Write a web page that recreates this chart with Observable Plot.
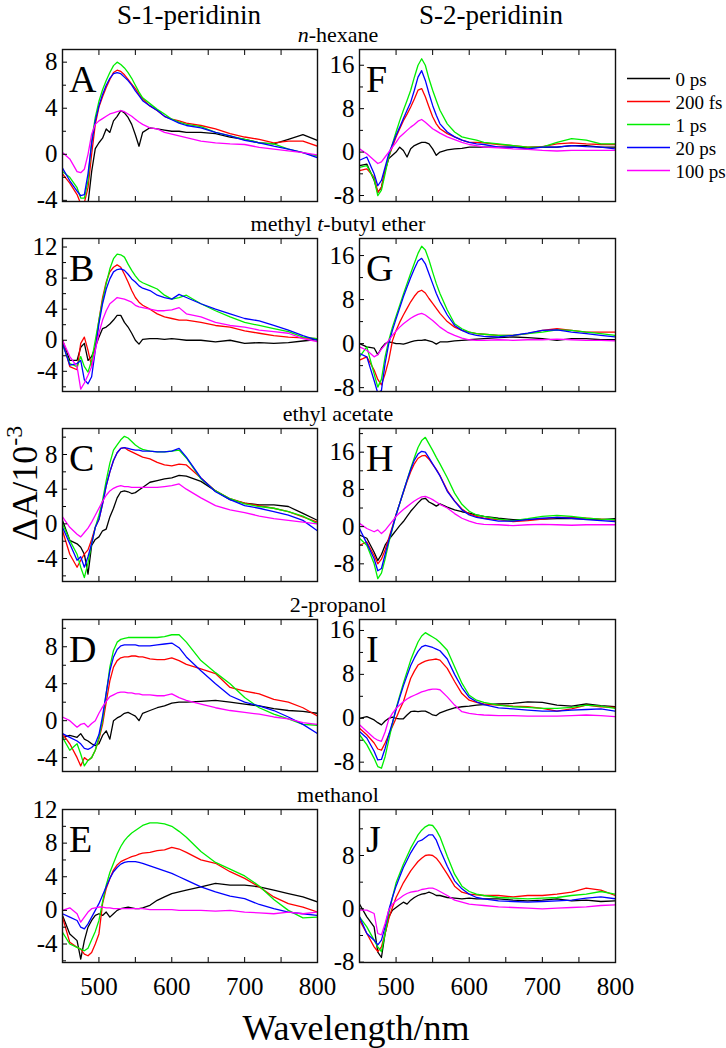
<!DOCTYPE html>
<html><head><meta charset="utf-8">
<script src="https://cdn.jsdelivr.net/npm/d3@7"></script>
<script src="https://cdn.jsdelivr.net/npm/@observablehq/plot@0.6"></script>
<style>
body{margin:0;background:#fff;}
#root{position:relative;width:726px;height:1048px;overflow:hidden;background:#fff;font-family:"Liberation Serif","Times New Roman",serif;}
#root svg{position:absolute;overflow:visible;}
</style></head><body><div id="root"></div>
<script>
// ---- data ----
const wavelength = [450,460,470,475,480,485,490,495,500,505,510,515,520,525,530,535,540,545,550,555,560,570,580,590,600,610,620,640,660,680,700,720,740,760,780,800];
const seriesNames = ["0 ps","200 fs","1 ps","20 ps","100 ps"];
const seriesColors = ["#000000","#ff0000","#00ee00","#0000ff","#ff00ff"];
const columnTitles = ["S-1-peridinin","S-2-peridinin"];
const solvents = ["n-hexane","methyl t-butyl ether","ethyl acetate","2-propanol","methanol"];
const xTicks = [450,500,550,600,650,700,750,800];
const xLabels = [500,600,700,800];

// each panel: [0 ps, 200 fs, 1 ps, 20 ps, 100 ps]
const panelA = [
 [-5,-5,-5,-5,-5,-4.3,-1.5,0.5,1.0,1.4,2.2,1.9,2.9,3.3,3.8,3.6,3.2,2.6,1.7,0.7,1.9,2.3,2.2,2.1,2.0,2.0,1.9,1.9,1.8,1.5,1.3,1.0,0.9,1.3,1.7,1.2],
 [-1.7,-2.5,-3.5,-4.3,-4.2,-2.9,0,2.6,4.1,5.0,5.8,6.5,7.1,7.3,7.2,6.9,6.5,6.1,5.7,5.2,4.8,4.2,3.8,3.3,3.05,2.9,2.7,2.5,2.2,1.8,1.5,1.3,1.0,1.15,1.15,0.7],
 [-1.5,-2.0,-2.9,-3.8,-3.8,-2.3,1.2,3.2,4.6,5.6,6.4,7.1,7.7,8.0,7.8,7.5,7.1,6.6,6.0,5.4,4.9,4.4,3.9,3.5,3.05,2.8,2.6,2.4,1.9,1.6,1.3,1.0,0.9,0.45,0.15,-0.15],
 [-1.2,-2.3,-3.2,-3.6,-3.5,-1.7,0.9,2.9,4.2,5.2,6.0,6.6,7.0,7.1,7.0,6.7,6.4,6.0,5.5,5.1,4.65,4.2,3.8,3.3,3.0,2.7,2.5,2.3,1.9,1.6,1.2,1.0,0.7,0.45,0.15,-0.3],
 [0.15,-0.4,-1.5,-1.6,-1.3,0,1.75,2.6,2.9,3.1,3.3,3.5,3.6,3.7,3.8,3.7,3.5,3.3,3.05,2.8,2.6,2.3,2.2,1.9,1.75,1.6,1.45,1.15,1.0,0.9,0.85,0.6,0.45,0.3,0.15,-0.05]
];
const panelB = [
 [0,-2.6,-2.6,-0.9,-0.4,-2.6,-2.1,-0.9,0.4,1.5,1.7,2.1,2.6,3.2,3.2,2.3,1.7,0.9,0,-0.5,0.1,0.2,0.2,0.1,0.2,0.1,0,0,-0.2,0,-0.4,-0.3,-0.4,-0.3,-0.1,0.1],
 [0,-3.4,-3.8,-0.4,0.4,-1.3,-3.4,-0.9,2.6,5.5,7.5,8.8,9.4,9.7,9.4,8.5,7.5,6.4,5.5,4.9,4.5,4.0,3.4,3.0,2.8,2.6,2.6,2.3,1.9,1.7,1.2,0.9,0.6,0.4,0.3,0.2],
 [-0.5,-3.0,-3.4,-2.1,-3.4,-4.1,-2.6,0,2.6,5.1,7.3,9.2,10.5,11.1,11.0,10.7,9.8,9.0,8.3,7.7,7.4,7.0,6.6,5.8,5.3,5.5,5.8,4.7,3.8,3.0,2.3,1.9,1.5,1.1,0.4,0.2],
 [-0.4,-3.2,-3.0,-2.6,-5.1,-5.6,-4.7,-1.3,2.1,4.7,6.6,7.9,8.8,9.1,9.2,9.0,8.5,7.9,7.5,7.0,6.7,6.4,5.8,5.5,5.3,5.9,5.5,4.7,4.0,3.4,2.8,2.5,1.9,1.3,0.6,0],
 [0,-2.1,-3.4,-6.3,-5.5,-4.5,-3.4,-1.3,0.9,2.6,3.8,4.7,5.1,5.5,5.4,5.3,5.1,4.9,4.5,4.3,4.2,4.0,3.8,3.8,3.9,4.2,3.4,3.0,2.3,1.9,1.7,1.3,1.1,0.9,0.2,-0.2]
];
const panelC = [
 [0.4,-1.9,-2.3,-2.7,-3.5,-5.8,-2.5,-1.8,-1.5,-0.8,-0.6,0.8,1.8,3.0,3.7,3.8,3.7,3.5,3.6,3.9,4.2,4.8,5.0,5.2,5.3,5.6,5.5,4.9,3.8,2.8,2.4,2.2,2.2,2.0,1.2,0.4],
 [-0.8,-3.5,-5.0,-4.2,-3.5,-3.0,-1.8,-0.4,0.5,2.3,4.4,6.0,7.3,8.2,8.7,8.8,8.5,8.3,8.1,7.9,7.7,7.5,7.1,6.8,6.7,6.9,6.8,5.3,3.8,2.9,2.4,2.1,1.8,1.4,0.8,0.2],
 [0,-1.9,-3.5,-5.0,-6.2,-4.5,-2.3,-0.4,1.0,2.7,5.0,7.0,8.5,9.1,9.7,10.1,9.9,9.5,9.1,8.8,8.6,8.4,8.3,8.3,8.4,8.5,7.6,5.2,3.8,2.9,2.3,2.0,1.8,1.4,0.9,0],
 [-0.4,-2.3,-4.2,-3.8,-5.0,-3.8,-2.3,-0.4,0.5,2.3,4.4,6.0,7.3,8.2,8.7,8.8,8.7,8.6,8.5,8.5,8.4,8.4,8.3,8.3,8.4,8.7,7.7,5.3,3.7,2.8,2.1,1.8,1.4,1.0,0.4,-0.8],
 [0.8,-0.4,-1.2,-1.5,-1.0,-0.5,0.2,1.0,1.8,2.6,3.3,3.8,4.1,4.3,4.4,4.3,4.3,4.2,4.2,4.2,4.2,4.2,4.2,4.3,4.4,4.6,4.0,3.0,2.1,1.6,1.3,0.9,0.6,0.4,0.2,0]
];
const panelD = [
 [-1.8,-1.6,-1.8,-1.4,-2.0,-2.2,-2.5,-2.7,-2.5,-1.6,-1.1,-2.0,0,0.3,0.5,0.8,0.9,0.7,0.5,0,0.8,1.1,1.4,1.6,1.9,2.0,2.0,2.1,2.2,2.0,1.8,1.6,1.3,1.1,1.0,0.8],
 [-1.4,-2.5,-4.0,-4.9,-4.0,-4.3,-4.0,-3.2,-2.0,-0.4,2.0,4.3,5.8,6.5,6.8,6.9,6.9,7.0,7.0,6.9,6.9,6.7,6.6,6.6,6.8,6.5,6.1,5.6,5.1,3.6,3.2,2.9,2.3,2.0,1.4,0.5],
 [-1.8,-3.2,-2.5,-3.6,-4.9,-4.3,-4.0,-3.2,-1.8,0,2.9,5.8,7.6,8.5,8.8,8.9,9.0,9.0,9.0,9.0,9.0,9.0,9.0,9.1,9.3,9.3,8.5,6.5,5.2,4.0,2.5,1.4,0.7,0.2,-0.4,-0.5],
 [-1.4,-1.8,-2.2,-2.5,-3.0,-3.1,-2.9,-2.5,-1.5,0.5,3.0,5.4,6.9,7.7,8.1,8.2,8.2,8.2,8.2,8.1,8.1,8.1,8.2,8.3,8.4,7.9,6.9,5.4,4.0,2.7,2.0,1.6,1.1,0.4,-0.4,-1.4],
 [0.4,0,-0.7,-0.4,-0.3,-0.7,-0.3,0,0.8,1.5,2.1,2.6,2.8,3.0,3.1,3.1,3.0,3.0,2.9,2.9,2.8,2.8,2.7,2.7,2.9,2.5,2.2,1.8,1.4,1.1,0.9,0.7,0.4,0.2,-0.2,-0.4]
];
const panelE = [
 [-0.6,-2.8,-3.6,-5.8,-3.6,-2.0,-1.2,-0.6,-0.4,-0.6,-0.2,-0.8,-0.4,0,0.2,0.3,0.4,0.3,0.2,0.2,0.3,0.6,1.2,1.6,2.0,2.2,2.4,2.8,3.2,3.0,3.0,2.8,2.4,2.0,1.6,1.0],
 [-0.8,-3.8,-4.4,-4.6,-5.2,-5.4,-5.0,-4.0,-2.8,0.8,2.6,3.8,4.8,5.4,5.8,6.0,6.2,6.4,6.5,6.7,6.8,6.9,7.1,7.2,7.5,7.3,6.9,6.0,5.6,4.6,3.8,2.8,1.6,0.8,0.4,-0.2],
 [-2.6,-4.0,-4.4,-4.6,-4.8,-4.5,-3.5,-2.5,-1.2,1.0,3.0,4.5,5.6,6.7,7.6,8.3,8.8,9.2,9.5,9.8,10.1,10.4,10.4,10.3,10.0,9.4,8.7,7.0,5.7,4.9,4.1,2.9,1.3,0,-0.9,-0.8],
 [-0.4,-0.8,-1.2,-2.0,-2.2,-1.6,-0.8,0,0.8,1.8,2.8,3.8,4.6,5.1,5.5,5.7,5.8,5.8,5.8,5.7,5.6,5.3,5.0,4.7,4.4,4.0,3.6,2.8,2.2,1.7,1.4,0.7,0.2,-0.2,-0.4,-0.6],
 [0,0.3,-0.4,-1.4,-0.8,-0.2,0.2,0.3,0.4,0.4,0.3,0.3,0.2,0.2,0.2,0.2,0.2,0.2,0.2,0.2,0.2,0.1,0.1,0.1,0.1,0,0,0,-0.1,0,-0.2,-0.3,-0.4,-0.2,-0.4,-0.2]
];
const panelF = [
 [-2.5,-2.2,-5.2,-7.4,-6.5,-3.4,-1.2,-0.6,0,0.9,0.3,-0.9,0.6,1.2,1.5,1.8,1.8,1.5,0.6,-0.6,0,0.4,0.6,0.7,0.9,0.9,0.9,0.9,0.9,0.8,0.9,0.9,1.2,1.2,0.9,0.9],
 [-3.4,-3.1,-4.6,-7.4,-6.5,-3.4,-0.9,1.0,2.8,4.3,5.8,7.0,8.3,9.8,11.4,11.7,10.2,8.3,6.5,5.2,4.3,3.4,2.8,2.2,1.8,1.8,1.7,1.4,1.2,0.9,1.0,1.5,1.7,1.5,1.4,1.4],
 [-2.8,-2.5,-5.0,-8.0,-7.0,-4.0,-0.9,1.5,3.7,5.8,7.7,9.5,11.4,13.8,16.0,17.2,16.0,13.5,11.4,9.5,7.7,5.2,3.7,2.8,2.5,2.2,1.8,1.5,1.2,0.9,0.9,1.8,2.5,2.2,1.5,1.5],
 [-1.5,-0.9,-4.0,-6.2,-5.2,-2.8,-0.3,1.4,3.1,4.6,6.2,7.7,9.2,11.4,13.8,15.0,13.2,10.8,8.6,6.8,5.2,3.7,2.8,2.2,1.8,1.5,1.4,0.9,0.9,0.6,0.9,0.9,1.2,1.0,0.9,0.6],
 [0.6,-0.3,-1.5,-2.1,-1.8,-0.9,0,0.9,1.8,2.8,3.4,4.0,4.6,5.1,5.7,6.0,5.5,4.9,4.3,3.9,3.5,2.8,2.3,1.8,1.4,1.2,0.9,0.8,0.6,0.5,0.3,0.2,0.3,0.3,0.3,0.3]
];
const panelG = [
 [0,-0.6,-0.8,-2.0,-0.8,0,0.3,0.2,0,0,-0.1,0.1,0.3,0.5,0.6,0.6,0.7,0.5,0.3,-0.1,0.3,0.3,0.5,0.6,0.7,0.8,0.9,1.1,1.2,1.1,0.9,0.6,0.9,0.9,0.7,0.7],
 [-3.0,-2.4,-4.8,-6.5,-7.5,-5.5,-3.0,0.5,2.4,3.9,5.2,6.4,7.6,8.6,9.4,9.7,9.2,8.2,7.3,6.4,5.5,4.0,3.0,2.4,2.1,1.8,1.7,1.5,1.5,1.8,2.4,2.7,2.4,2.1,2.1,2.1],
 [-2.4,-0.6,-5.5,-7.9,-6.5,-2.4,0.6,3.0,5.0,7.0,9.0,10.9,12.8,14.6,16.4,17.7,17.0,15.2,13.0,10.9,9.1,6.1,3.6,2.7,2.1,1.8,1.7,1.5,1.5,1.8,2.1,2.5,2.4,2.1,1.8,1.5],
 [-1.8,-2.4,-6.7,-9.0,-8.5,-3.6,0,2.4,4.5,6.5,8.5,10.3,12.0,13.6,15.0,15.5,14.5,12.7,10.9,9.1,7.6,5.2,3.3,2.4,1.8,1.5,1.3,1.2,1.5,1.9,2.4,2.5,2.1,1.8,1.5,1.2],
 [-0.6,-1.2,-2.4,-2.0,-1.0,-0.2,0.6,1.5,2.3,3.0,3.6,4.1,4.6,5.0,5.3,5.5,5.2,4.7,4.2,3.6,3.0,2.1,1.5,1.0,0.7,0.6,0.6,0.7,0.6,0.7,0.7,0.8,0.7,0.6,0.6,0.5]
];
const panelH = [
 [-1.8,-2.5,-5.5,-7.3,-6.0,-4.0,-2.8,-1.8,-0.8,0.2,1.1,2.2,3.3,4.2,5.1,5.9,6.1,5.3,4.9,4.4,4.9,4.2,3.6,3.2,2.9,2.5,2.2,1.8,1.5,1.5,1.6,1.7,1.7,1.6,1.5,1.7],
 [-4.0,-3.3,-6.2,-8.0,-7.0,-5.0,-2.5,0,2.6,5.0,7.4,9.7,11.8,13.5,14.7,15.2,15.3,14.5,13.4,12.3,11.0,7.8,5.5,3.8,2.7,2.2,1.8,1.5,1.1,1.3,1.6,2.0,2.0,1.8,1.6,1.4],
 [-2.5,-4.0,-8.0,-11.2,-10.0,-7.0,-3.5,-0.5,2.5,5.0,7.5,10.0,12.5,14.8,17.0,18.5,19.2,17.8,16.4,14.9,13.5,10.5,7.2,4.8,3.3,2.5,2.2,1.6,1.3,1.7,2.2,2.4,2.2,1.8,1.6,1.5],
 [-0.4,-3.6,-6.9,-9.5,-9.0,-6.0,-3.0,-0.3,2.5,5.0,7.5,10.0,12.3,14.3,15.6,16.2,16.0,14.8,13.5,12.2,10.9,7.6,5.5,3.6,2.5,2.0,1.7,1.2,1.2,1.5,1.8,2.0,1.8,1.5,1.3,1.1],
 [0.7,-0.4,-1.1,-0.7,-1.5,-0.8,0.2,1.2,2.2,3.0,3.7,4.3,4.9,5.5,6.0,6.4,6.5,6.2,5.8,5.3,4.8,4.0,2.8,1.8,1.2,0.7,0.5,0.4,0.2,0.4,0.5,0.4,0.3,0.4,0.4,0.4]
];
const panelI = [
 [0,0.3,-0.3,-0.8,-1.2,-0.5,0,0.2,0,-0.1,-0.1,0.6,1.2,1.3,1.2,1.3,1.3,1.0,0.6,0.5,1.0,1.5,1.9,2.1,2.2,2.4,2.5,2.6,2.7,3.0,2.9,2.4,2.2,2.6,2.3,2.1],
 [-1.8,-3.0,-4.5,-5.6,-5.8,-4.5,-3.0,-1.5,0,1.6,3.0,5.2,7.3,8.6,9.7,10.1,10.4,10.6,10.7,10.8,10.6,9.1,6.7,4.5,3.3,2.9,2.6,2.4,2.2,2.1,1.8,1.3,1.7,2.4,2.1,2.0],
 [-3.0,-4.8,-7.3,-8.8,-9.1,-7.0,-4.0,-1.0,1.8,4.1,6.4,8.5,10.6,12.3,13.9,15.0,15.6,15.2,14.8,14.4,13.8,12.4,9.4,6.4,4.2,3.3,2.9,2.4,2.1,2.0,1.8,1.8,2.0,2.4,2.2,1.8],
 [-2.4,-3.6,-6.0,-7.6,-7.5,-5.5,-3.0,-0.8,1.6,3.8,5.9,7.8,9.6,11.0,12.2,13.0,13.3,13.1,12.9,12.6,12.3,10.8,8.0,5.6,3.8,3.0,2.5,1.9,1.7,1.5,1.3,1.3,1.5,1.6,1.7,1.3],
 [-1.2,-2.4,-3.6,-4.0,-4.2,-2.5,-0.2,0.9,1.8,2.4,3.0,3.5,3.9,4.2,4.5,4.8,5.0,5.2,5.3,5.3,5.2,3.9,2.4,1.2,0.9,0.7,0.6,0.5,0.5,0.4,0.4,0.4,0.5,0.6,0.5,0.3]
];
const panelJ = [
 [0.7,-1.2,-2.7,-6.5,-7.3,-3.7,-1.2,-0.2,0.2,0.6,1.0,0.7,1.3,1.7,2.0,2.2,2.3,2.5,2.3,2.0,2.0,1.7,1.6,1.5,1.6,1.5,1.5,1.5,1.3,1.2,1.3,1.5,1.2,1.3,1.1,1.2],
 [-1.7,-3.7,-5.7,-6.4,-5.7,-3.7,-1.5,0.2,1.7,2.8,3.9,4.8,5.7,6.4,7.1,7.6,8.0,8.1,8.0,7.6,6.9,5.2,3.4,2.5,2.2,2.1,2.0,2.0,1.8,2.0,2.0,2.2,2.5,3.1,2.8,2.0],
 [-1.2,-2.7,-4.7,-5.7,-6.4,-3.7,-0.7,1.7,3.9,5.3,6.7,7.9,9.1,10.1,11.1,11.8,12.3,12.6,12.5,11.8,10.8,7.9,5.2,3.4,2.6,2.2,2.0,1.7,1.6,1.5,1.6,1.7,2.0,2.2,2.6,2.2],
 [-1.2,-3.7,-4.7,-5.4,-4.7,-2.7,-0.2,1.7,3.4,4.8,6.2,7.3,8.4,9.3,10.1,10.3,10.7,11.1,11.1,10.3,8.9,6.4,4.2,3.0,2.2,1.7,1.5,1.2,1.1,1.0,1.1,1.2,1.3,1.6,1.8,1.5],
 [-0.2,-0.2,-0.7,-3.7,-3.9,-2.2,-0.2,0.7,1.2,1.6,2.0,2.3,2.5,2.6,2.7,2.9,3.0,3.1,3.1,2.9,2.6,2.0,1.3,1.0,0.7,0.6,0.5,0.3,0.2,0.1,0,0.1,0.2,0.3,0.5,0.6]
];

// ---- layout ----
const FONT = "Liberation Serif, Times New Roman, serif";
const colX = [62, 359];
const colW = [255, 256];
const rowY = [49, 238, 428, 619, 809];
const rowH = [152, 153, 153, 152, 153];
const panels = [
  {letter:"A", data:panelA, col:0, row:0, yd:[-4.1,9.1],  major:[-4,0,4,8],     step:2},
  {letter:"B", data:panelB, col:0, row:1, yd:[-6.6,13.1], major:[-4,0,4,8,12],  step:2},
  {letter:"C", data:panelC, col:0, row:2, yd:[-6.65,11.0],major:[-4,0,4,8],     step:2},
  {letter:"D", data:panelD, col:0, row:3, yd:[-5.5,10.95],major:[-4,0,4,8],     step:2},
  {letter:"E", data:panelE, col:0, row:4, yd:[-6.2,12.0], major:[-4,0,4,8,12],  step:2},
  {letter:"F", data:panelF, col:1, row:0, yd:[-9.1,18.9], major:[-8,0,8,16],    step:4},
  {letter:"G", data:panelG, col:1, row:1, yd:[-8.7,19.1], major:[-8,0,8,16],    step:4},
  {letter:"H", data:panelH, col:1, row:2, yd:[-11.8,21.1],major:[-8,0,8,16],    step:4},
  {letter:"I", data:panelI, col:1, row:3, yd:[-9.7,18.0], major:[-8,0,8,16],    step:4},
  {letter:"J", data:panelJ, col:1, row:4, yd:[-8.05,14.9],major:[-8,0,8],       step:4}
];

const root = document.getElementById("root");
const mL = 60, mR = 4, mT = 4;

for (const p of panels) {
  const rows = [];
  p.data.forEach((vals, si) => vals.forEach((v, i) => rows.push({w: wavelength[i], v, s: seriesNames[si]})));
  const bottom = p.row === 4;
  const mB = bottom ? 44 : 4;
  const w = colW[p.col], h = rowH[p.row];
  const minor = d3.range(Math.ceil(p.yd[0] / p.step) * p.step, p.yd[1], p.step).filter(t => !p.major.includes(t));
  const chart = Plot.plot({
    width: w + mL + mR, height: h + mT + mB,
    marginLeft: mL, marginRight: mR, marginTop: mT, marginBottom: mB,
    style: {fontFamily: FONT, fontSize: "25px", background: "none", overflow: "visible", color: "#000"},
    x: {domain: [450, 800]},
    y: {domain: p.yd},
    color: {domain: seriesNames, range: seriesColors},
    marks: [
      Plot.line(rows, {x: "w", y: "v", z: "s", stroke: "s", strokeWidth: 1.3, clip: true}),
      Plot.axisX(xTicks, {anchor: "top", tickSize: -5, tickFormat: () => "", label: null}),
      Plot.axisX(xTicks, {anchor: "bottom", tickSize: -5, tickPadding: 20, fontSize: 25,
        tickFormat: d => (bottom && xLabels.includes(d)) ? String(d) : "", label: null}),
      Plot.axisY(p.major, {anchor: "left", tickSize: -5, tickPadding: 10, fontSize: 25, tickFormat: d => String(d), label: null}),
      Plot.axisY(minor, {anchor: "left", tickSize: -4, tickFormat: () => "", label: null}),
      Plot.frame({stroke: "#111", strokeWidth: 1.4})
    ]
  });
  chart.style.left = (colX[p.col] - mL) + "px";
  chart.style.top = (rowY[p.row] - mT) + "px";
  root.appendChild(chart);
}

// legend
const legend = Plot.plot({
  width: 100, height: 120, margin: 0,
  style: {fontFamily: FONT, background: "none", overflow: "visible", color: "#000"},
  x: {domain: [0, 100], range: [0, 100], axis: null},
  y: {type: "point", domain: seriesNames, range: [12, 106], padding: 0, axis: null},
  color: {domain: seriesNames, range: seriesColors},
  marks: [
    Plot.ruleY(seriesNames, {y: d => d, x1: 0, x2: 43, stroke: d => d, strokeWidth: 1.6}),
    Plot.text(seriesNames, {y: d => d, x: 48, text: d => d, textAnchor: "start", fontSize: 19, dy: 1})
  ]
});
legend.style.left = "627px";
legend.style.top = "65px";
root.appendChild(legend);

// titles and labels
const svg = d3.select(root).append("svg")
  .attr("width", 726).attr("height", 1048)
  .style("left", "0px").style("top", "0px")
  .attr("font-family", FONT).attr("fill", "#000");

svg.append("text").attr("x", 189).attr("y", 24).attr("text-anchor", "middle").attr("font-size", 27).text(columnTitles[0]);
svg.append("text").attr("x", 491).attr("y", 24).attr("text-anchor", "middle").attr("font-size", 27).text(columnTitles[1]);

solvents.forEach((s, r) => {
  const t = svg.append("text").attr("x", 338).attr("y", rowY[r] - 7).attr("text-anchor", "middle").attr("font-size", 22);
  if (s.startsWith("n-")) {
    t.append("tspan").attr("font-style", "italic").text("n");
    t.append("tspan").text(s.slice(1));
  } else if (s.includes(" t-")) {
    const i = s.indexOf(" t-");
    t.append("tspan").text(s.slice(0, i + 1));
    t.append("tspan").attr("font-style", "italic").text("t");
    t.append("tspan").text(s.slice(i + 2));
  } else t.text(s);
});

for (const p of panels) {
  svg.append("text").attr("x", colX[p.col] + 7).attr("y", rowY[p.row] + 43)
    .attr("font-size", 38).text(p.letter);
}

svg.append("text").attr("x", 356).attr("y", 1040).attr("text-anchor", "middle").attr("font-size", 36).text("Wavelength/nm");

const yl = svg.append("text").attr("transform", "translate(37,541) rotate(-90)").attr("font-size", 36);
yl.append("tspan").text("\u0394A/10");
yl.append("tspan").attr("font-size", 24).attr("dy", -15).text("-3");
</script></body></html>
